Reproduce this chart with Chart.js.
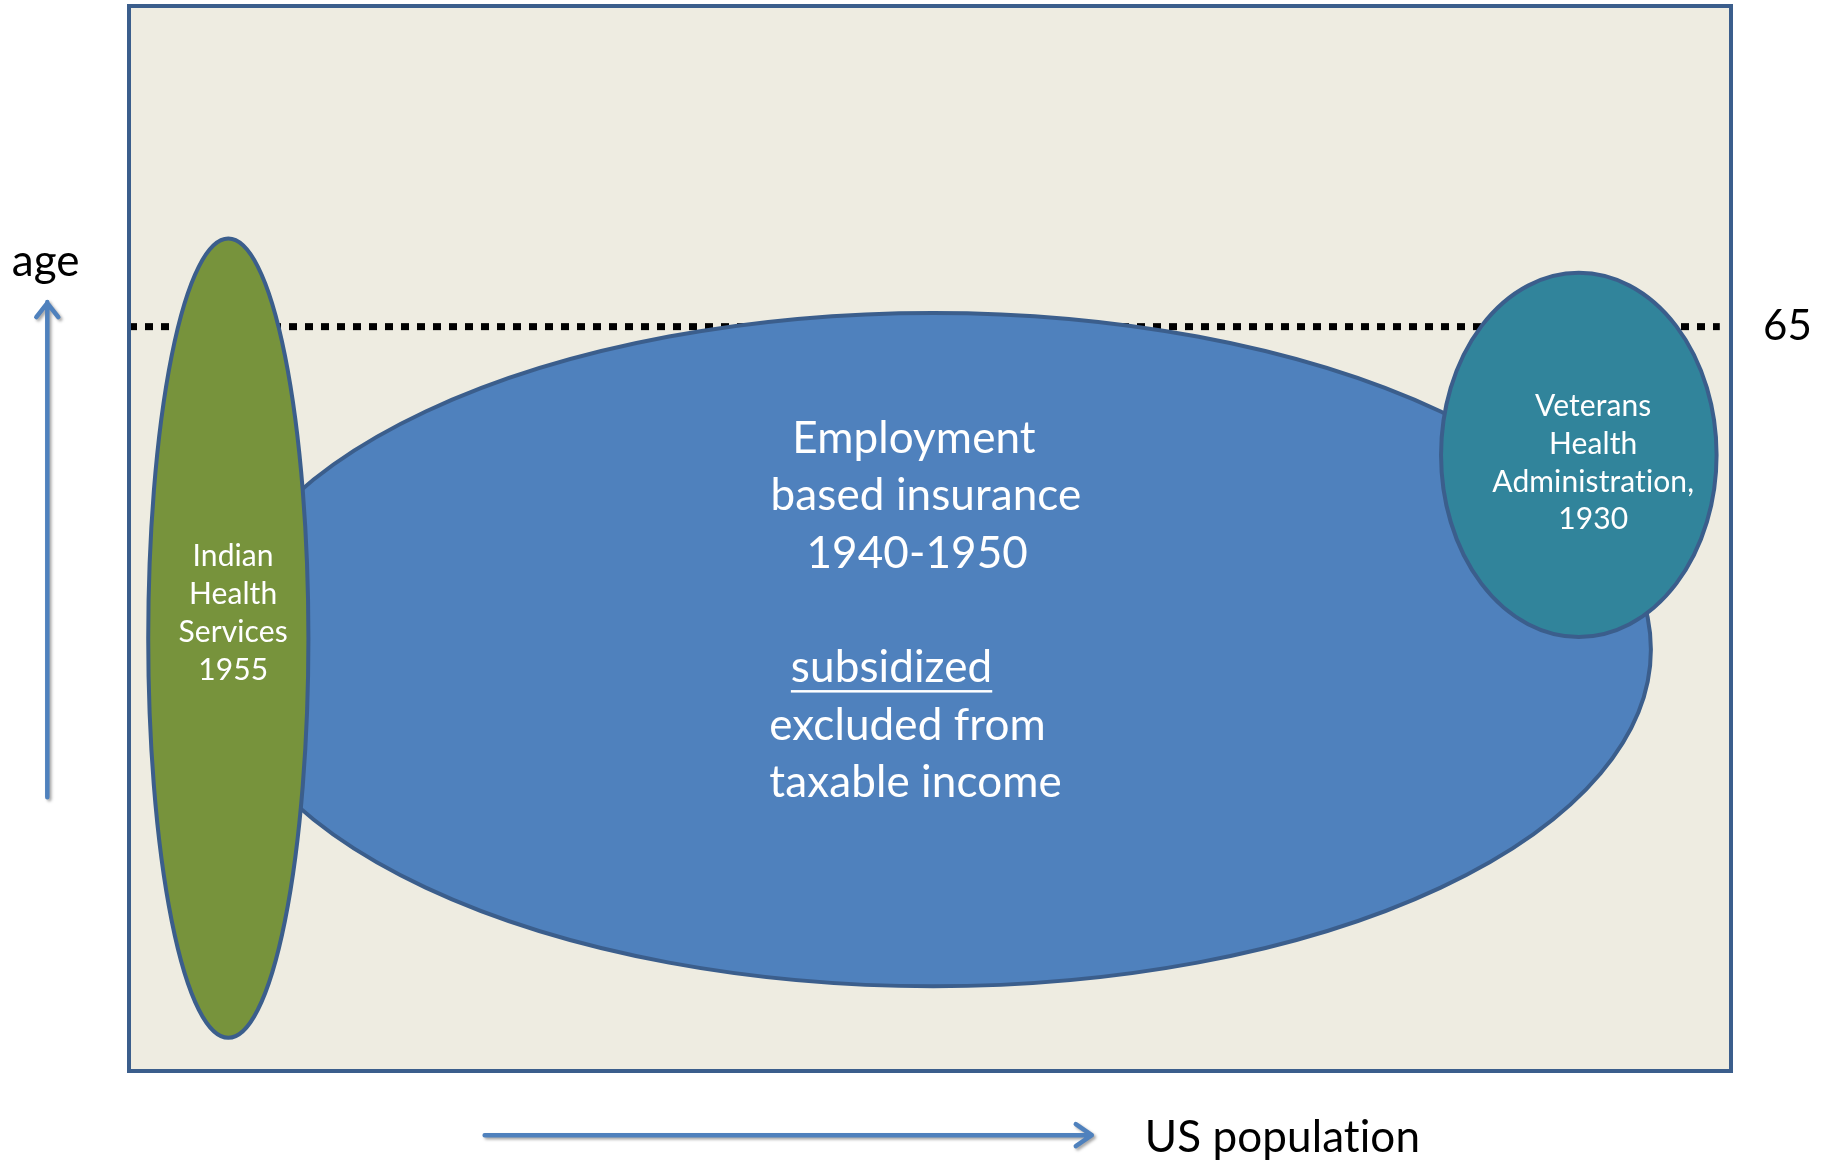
<!DOCTYPE html>
<html>
<head>
<meta charset="utf-8">
<title>US health coverage by age and population</title>
<script src="https://cdn.jsdelivr.net/npm/chart.js@4.4.1/dist/chart.umd.min.js"></script>
<style>
    body { margin: 0; background: #ffffff; }
    #wrap { width: 1829px; height: 1161px; }
</style>
</head>
<body>
<div id="wrap">
    <canvas id="CoverageChart" width="1829" height="1161"></canvas>
</div>
<script>
// x = share of US population (0-100), y = age in years
const programs = ["Employment based insurance", "Indian Health Services", "Veterans Health Administration"];
const popCenter = [50.2, 6.2, 90.5];
const popSpread = [44.8, 5.0, 8.6];
const ageCenter = [36.8, 37.8, 53.8];
const ageSpread = [29.4, 34.9, 15.9];

const retirementAge = 65;
const ageLineX = [0, 99.3];

const programLabels = [
    ["Employment", "based insurance", "1940-1950", "", "subsidized", "excluded from", "taxable income"],
    ["Indian", "Health", "Services", "1955"],
    ["Veterans", "Health", "Administration,", "1930"]
];
const underlined = ["subsidized"];

// where each text block sits (data units), one x per line
const labelX = [
    [49.0, 49.75, 49.2, 49.1, 47.6, 48.6, 49.1],
    [6.5, 6.5, 6.5, 6.5],
    [91.4, 91.4, 91.4, 91.4]
];
const labelTopY = [55.2, 44.9, 58.0];

const styles = {
    fill: ["#4f81bd", "#77933c", "#31849b"],
    outline: "#3b5e8c",
    frameFill: "#eeece1",
    arrow: "#4f81bd",
    font: "Lato, 'Liberation Sans', sans-serif",
    labelSize: [44, 30, 30],
    lineHeight: [57.3, 37.8, 37.6]
};

// draw order: blue first, then green and teal over it
const drawOrder = [0, 1, 2];

const framePlugin = {
    id: "frame",
    beforeDatasetsDraw(chart) {
        const {ctx, chartArea} = chart;
        ctx.save();
        ctx.fillStyle = styles.frameFill;
        ctx.fillRect(chartArea.left, chartArea.top, chartArea.right - chartArea.left, chartArea.bottom - chartArea.top);
        ctx.restore();
    },
    afterDatasetsDraw(chart) {
        const {ctx, chartArea} = chart;
        let xs = chart.scales.x;
        let ys = chart.scales.y;

        drawOrder.forEach(i => {
            let cx = xs.getPixelForValue(popCenter[i]);
            let cy = ys.getPixelForValue(ageCenter[i]);
            let rx = Math.abs(xs.getPixelForValue(popCenter[i] + popSpread[i]) - cx);
            let ry = Math.abs(ys.getPixelForValue(ageCenter[i] + ageSpread[i]) - cy);
            ctx.save();
            ctx.beginPath();
            ctx.ellipse(cx, cy, rx, ry, 0, 0, Math.PI * 2);
            ctx.fillStyle = styles.fill[i];
            ctx.fill();
            ctx.lineWidth = 4;
            ctx.strokeStyle = styles.outline;
            ctx.stroke();
            ctx.restore();
        });

        // text inside each shape
        programLabels.forEach((lines, i) => {
            ctx.save();
            ctx.font = styles.labelSize[i] + "px " + styles.font;
            ctx.letterSpacing = "0.1px";
            ctx.fillStyle = "#ffffff";
            ctx.textAlign = "center";
            ctx.textBaseline = "middle";
            let top = ys.getPixelForValue(labelTopY[i]);
            lines.forEach((line, j) => {
                if (line === "") return;
                let x = xs.getPixelForValue(labelX[i][j]);
                let y = top + j * styles.lineHeight[i];
                ctx.fillText(line, x, y);
                if (underlined.includes(line)) {
                    let w = ctx.measureText(line).width;
                    ctx.fillRect(x - w / 2, y + styles.labelSize[i] * 0.5, w, 2.5);
                }
            });
            ctx.restore();
        });

        ctx.save();
        ctx.lineWidth = 4;
        ctx.strokeStyle = styles.outline;
        ctx.strokeRect(chartArea.left, chartArea.top, chartArea.right - chartArea.left, chartArea.bottom - chartArea.top);
        ctx.restore();
    },
    afterDraw(chart) {
        const {ctx} = chart;
        let xs = chart.scales.x;
        let ys = chart.scales.y;

        ctx.save();
        ctx.fillStyle = "#000000";
        ctx.letterSpacing = "0.1px";
        ctx.textBaseline = "middle";
        ctx.textAlign = "left";
        ctx.font = "42px " + styles.font;
        ctx.fillText(String(retirementAge), xs.getPixelForValue(102.0), ys.getPixelForValue(retirementAge));
        ctx.font = "44px " + styles.font;
        ctx.fillText("US population", xs.getPixelForValue(63.4), ys.getPixelForValue(-5.8));
        ctx.textAlign = "center";
        ctx.fillText("age", xs.getPixelForValue(-5.2), ys.getPixelForValue(70.7));
        ctx.restore();

        // axis arrows
        ctx.save();
        ctx.strokeStyle = styles.arrow;
        ctx.lineWidth = 4.5;
        ctx.lineCap = "round";
        ctx.lineJoin = "round";
        ctx.shadowColor = "rgba(0,0,0,0.35)";
        ctx.shadowOffsetX = 2;
        ctx.shadowOffsetY = 2;
        ctx.shadowBlur = 3;

        let ax = xs.getPixelForValue(-5.1);
        let aTop = ys.getPixelForValue(67.15);
        let aBot = ys.getPixelForValue(23.9);
        ctx.beginPath();
        ctx.moveTo(ax, aBot);
        ctx.lineTo(ax, aTop);
        ctx.moveTo(ax - 11, aTop + 15);
        ctx.lineTo(ax, aTop + 1);
        ctx.lineTo(ax + 11, aTop + 15);
        ctx.stroke();

        let ay = ys.getPixelForValue(-5.6);
        let aL = xs.getPixelForValue(22.2);
        let aR = xs.getPixelForValue(60.1);
        ctx.beginPath();
        ctx.moveTo(aL, ay);
        ctx.lineTo(aR, ay);
        ctx.moveTo(aR - 16, ay - 11);
        ctx.lineTo(aR, ay);
        ctx.lineTo(aR - 16, ay + 11);
        ctx.stroke();
        ctx.restore();
    }
};

const ctx = document.getElementById("CoverageChart").getContext("2d");
const coverageChart = new Chart(ctx, {
    type: "scatter",
    data: {
        datasets: [
            {
                label: "age " + retirementAge,
                data: ageLineX.map(x => ({x: x, y: retirementAge})),
                showLine: true,
                borderColor: "#000000",
                borderWidth: 7,
                borderDash: [8, 8],
                borderCapStyle: "butt",
                pointRadius: 0,
                fill: false
            }
        ]
    },
    options: {
        responsive: false,
        animation: false,
        layout: {
            padding: {left: 129, right: 98, top: 6, bottom: 90}
        },
        plugins: {
            legend: {display: false},
            tooltip: {enabled: false}
        },
        scales: {
            x: {type: "linear", min: 0, max: 100, display: false},
            y: {type: "linear", min: 0, max: 93, display: false}
        }
    },
    plugins: [framePlugin]
});
</script>
</body>
</html>
